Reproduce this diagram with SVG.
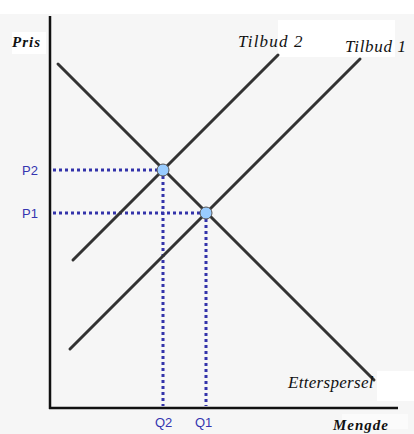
<svg xmlns="http://www.w3.org/2000/svg" width="414" height="434" viewBox="0 0 414 434">
<style>
.axis{stroke:#111;stroke-width:2.5;fill:none}
.curve{stroke:#333;stroke-width:3;fill:none;stroke-linecap:round}
.dot{stroke:#3333aa;stroke-width:3;stroke-dasharray:3 3;fill:none}
.pt{fill:#99ccff;stroke:#555;stroke-width:1}
.lbl{font-family:"Liberation Sans",Arial,sans-serif;font-size:13px;fill:#3535b0}
.it{font-family:"Liberation Serif","Times New Roman",serif;font-style:italic;font-size:17px;fill:#111}
.bi{font-family:"Liberation Serif","Times New Roman",serif;font-style:italic;font-weight:bold;font-size:15px;fill:#111;letter-spacing:1px}
</style>
<rect width="414" height="434" fill="#f6f6f6"/>
<rect x="0" y="0" width="414" height="14" fill="#fff"/>
<rect x="278" y="20" width="117" height="37" fill="#fff"/>
<rect x="377" y="371" width="37" height="30" fill="#fff"/>
<rect x="12" y="32" width="34" height="22" fill="#fff"/>
<rect x="342" y="414" width="66" height="15" fill="#fbfbfb"/>
<g id="axes">
<line class="axis" x1="50" y1="16" x2="50" y2="409"/>
<line class="axis" x1="49" y1="408" x2="398" y2="408"/>
</g>
<g id="connectors">
<line class="dot" x1="53" y1="170" x2="163" y2="170"/>
<line class="dot" x1="53" y1="213" x2="206" y2="213"/>
<line class="dot" x1="163" y1="170" x2="163" y2="406"/>
<line class="dot" x1="206" y1="213" x2="206" y2="406"/>
</g>
<g id="demand">
<line class="curve" x1="58" y1="64" x2="374" y2="380"/>
<text class="it" x="288" y="388" letter-spacing="0.3">Etterspersel</text>
</g>
<g id="supply2">
<line class="curve" x1="73" y1="260" x2="278" y2="55"/>
<text class="it" x="238" y="47" letter-spacing="1.2">Tilbud 2</text>
</g>
<g id="supply1">
<line class="curve" x1="70" y1="349" x2="360" y2="59"/>
<text class="it" x="345" y="52" letter-spacing="0.7">Tilbud 1</text>
</g>
<g id="eq2"><circle class="pt" cx="163" cy="170" r="6"/></g>
<g id="eq1"><circle class="pt" cx="206" cy="213" r="6"/></g>
<g id="labels">
<text class="bi" x="12" y="47">Pris</text>
<text class="bi" x="333" y="430">Mengde</text>
<text class="lbl" x="22" y="175">P2</text>
<text class="lbl" x="22" y="218">P1</text>
<text class="lbl" x="155" y="427">Q2</text>
<text class="lbl" x="195" y="427">Q1</text>
</g>
</svg>
